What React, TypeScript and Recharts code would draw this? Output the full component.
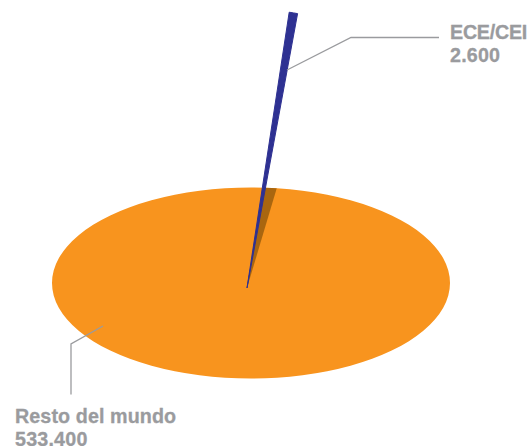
import React from "react";
import { PieChart, Pie, Cell, Sector } from "recharts";

const names = ["ECE/CEI", "Resto del mundo"];
const values = [2600, 533400];
const valueLabels = ["2.600", "533.400"];
// the dark wedge left in the disc where the thin slice was pulled out
const gapValue = [1];

const sliceData = names.map((name, i) => ({ name, value: values[i] }));
const restData = [sliceData[1]];

const ORANGE = "#F8941E";
const BLUE = "#2E3192";
const BROWN = "#A9660F";
const GREY = "#9A9B9E";
const FLATTEN = 95.5 / 199;

// pie disc seen at an angle: squash the circle around its centre
const FlatSector = (props: any) => (
  <g transform={`translate(0 ${props.cy}) scale(1 ${FLATTEN}) translate(0 ${-props.cy})`}>
    <Sector {...props} stroke="none" />
  </g>
);

const GapSector = (props: any) => (
  <g clipPath="url(#disc)">
    <Sector {...props} stroke="none" />
  </g>
);

const labelStyle = {
  fontFamily: "'Liberation Sans', sans-serif",
  fontWeight: 700,
  fontSize: 19.7,
  fill: GREY,
  stroke: GREY,
  strokeWidth: 0.3,
};

// leader line and the two text rows of each slice, same order as names
const leaders = ["287,70 351,37.5 439,37.5", "103,326 71,344 71,394.5"];
const labelSpots = [
  { x: 450, y1: 39, y2: 62, spacing: -0.25 },
  { x: 15, y1: 423, y2: 446, spacing: 0.1 },
];

const renderLabel = ({ index }: any) => {
  const spot = labelSpots[index];
  return (
    <g key={names[index]}>
      <polyline points={leaders[index]} fill="none" stroke={GREY} strokeWidth={1.3} />
      <text x={spot.x} y={spot.y1} letterSpacing={spot.spacing} style={labelStyle}>{names[index]}</text>
      <text x={spot.x} y={spot.y2} letterSpacing={0.2} style={labelStyle}>{valueLabels[index]}</text>
    </g>
  );
};

const App = () => {
  return (
    <div style={{ position: "absolute", left: 0, top: 0, width: 529, height: 446, overflow: "hidden" }}>
      <PieChart width={529} height={446} margin={{ top: 0, right: 0, bottom: 0, left: 0 }}>
        <defs>
          <clipPath id="disc">
            <ellipse cx={251} cy={283} rx={199} ry={95.5} />
          </clipPath>
        </defs>
        <Pie
          data={restData}
          dataKey="value"
          cx={251}
          cy={283}
          innerRadius={0}
          outerRadius={199}
          startAngle={0}
          endAngle={360}
          fill={ORANGE}
          stroke="none"
          shape={FlatSector}
          isAnimationActive={false}
        />
        <Pie
          data={gapValue.map((value) => ({ value }))}
          dataKey="value"
          cx={247}
          cy={288}
          innerRadius={0}
          outerRadius={125}
          startAngle={81}
          endAngle={73.4}
          fill={BROWN}
          stroke="none"
          shape={GapSector}
          isAnimationActive={false}
        />
        <Pie
          data={sliceData}
          dataKey="value"
          cx={247}
          cy={288}
          innerRadius={0}
          outerRadius={279}
          startAngle={81.3}
          endAngle={-278.7}
          stroke="none"
          label={renderLabel}
          labelLine={false}
          isAnimationActive={false}
        >
          <Cell fill={BLUE} stroke={BLUE} strokeWidth={1} />
          <Cell fill="none" />
        </Pie>
      </PieChart>
    </div>
  );
};

export default App;
